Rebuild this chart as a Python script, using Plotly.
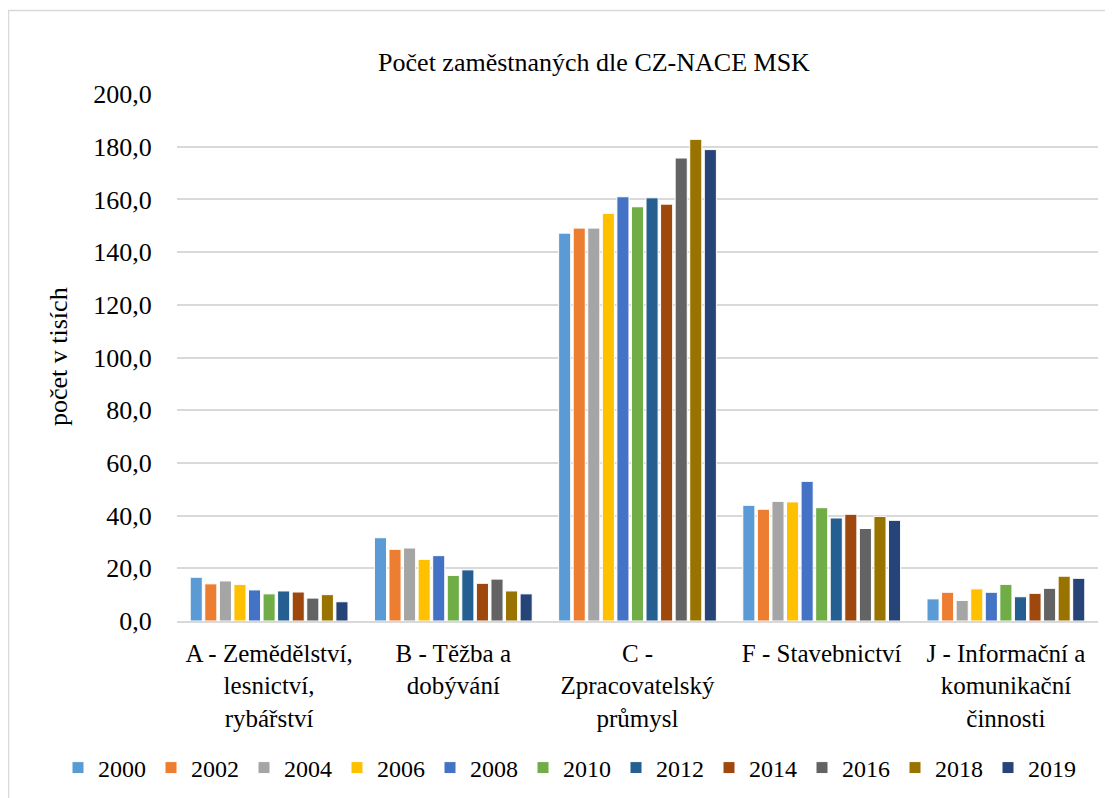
import plotly.graph_objects as go

categories = [
    "A - Zemědělství,<br>lesnictví,<br>rybářství",
    "B - Těžba a<br>dobývání",
    "C -<br>Zpracovatelský<br>průmysl",
    "F - Stavebnictví",
    "J - Informační a<br>komunikační<br>činnosti",
]
years = ["2000", "2002", "2004", "2006", "2008", "2010", "2012", "2014", "2016", "2018", "2019"]

v2000 = [16.6, 31.6, 147.2, 43.9, 8.4]
v2002 = [14.1, 27.2, 149.1, 42.4, 10.9]
v2004 = [15.2, 27.7, 149.1, 45.4, 7.8]
v2006 = [13.9, 23.4, 154.7, 45.2, 12.2]
v2008 = [11.8, 24.8, 161.0, 53.0, 10.9]
v2010 = [10.3, 17.3, 157.2, 43.0, 13.9]
v2012 = [11.4, 19.4, 160.6, 39.1, 9.2]
v2014 = [11.0, 14.3, 158.2, 40.5, 10.5]
v2016 = [8.7, 15.9, 175.7, 35.1, 12.4]
v2018 = [10.0, 11.4, 182.8, 39.7, 17.0]
v2019 = [7.3, 10.3, 178.9, 38.2, 16.2]

series = [v2000, v2002, v2004, v2006, v2008, v2010, v2012, v2014, v2016, v2018, v2019]
colors = ["#5B9BD5", "#ED7D31", "#A5A5A5", "#FFC000", "#4472C4", "#70AD47",
          "#255E91", "#9E480E", "#636363", "#997300", "#264478"]

FONT = "'Liberation Serif', 'Times New Roman', 'DejaVu Serif', serif"

fig = go.Figure()
for yr, vals, col in zip(years, series, colors):
    fig.add_trace(go.Bar(
        x=categories, y=vals, name=yr,
        marker=dict(color=col, line=dict(color="white", width=1)),
    ))

# page body has an 8px default margin; figure coordinates are page minus 8
OFF = 8
W, H = 1113 - OFF, 798 - OFF
L, T = 177 - OFF, 94 - OFF
R = W - (1098 - OFF)
B = H - (621 - OFF)
pw = W - L - R
ph = H - T - B
y0px = 621 - OFF  # pixel row of value 0 in figure coords


def px(xp):
    return (xp - OFF - L) / pw


def py(yp):
    return (y0px - (yp - OFF)) / ph


fig.update_layout(
    width=W, height=H,
    margin=dict(l=L, r=R, t=T, b=B, autoexpand=False),
    paper_bgcolor="white", plot_bgcolor="white",
    font=dict(family=FONT, size=24, color="black"),
    separators=", ",
    barmode="group", bargap=0.13, bargroupgap=0.17,
    title=dict(text="Počet zaměstnaných dle CZ-NACE MSK",
               font=dict(family=FONT, size=26, color="black"),
               x=(594 - OFF) / W, xanchor="center", xref="container",
               y=1 - (62 - OFF) / H, yanchor="middle", yref="container"),
    legend=dict(orientation="h", x=px(58), xanchor="left",
                y=py(768), yanchor="middle",
                font=dict(family=FONT, size=24, color="black"),
                itemwidth=30, tracegroupgap=0),
    xaxis=dict(showgrid=False, showline=True, linecolor="#d9d9d9", linewidth=1.5,
               ticks="outside", ticklen=9, tickcolor="rgba(0,0,0,0)",
               tickfont=dict(family=FONT, size=25, color="black")),
    yaxis=dict(range=[0, 200], dtick=20, tickformat=".1f",
               showgrid=True, gridcolor="#d9d9d9", gridwidth=1.5,
               zeroline=False, showline=False,
               ticks="outside", ticklen=19, tickcolor="rgba(0,0,0,0)",
               tickfont=dict(family=FONT, size=26, color="black")),
    annotations=[dict(text="počet v tisích", textangle=-90, xref="paper", yref="paper",
                      x=px(58), y=py(357), xanchor="center", yanchor="middle",
                      showarrow=False, font=dict(family=FONT, size=26, color="black"))],
    shapes=[dict(type="rect", xref="paper", yref="paper",
                 x0=px(8.5), x1=px(1130),
                 y0=py(820), y1=py(10.5),
                 line=dict(color="#d9d9d9", width=1.5), fillcolor="rgba(0,0,0,0)", layer="below")],
)

fig.write_html("out.html")
